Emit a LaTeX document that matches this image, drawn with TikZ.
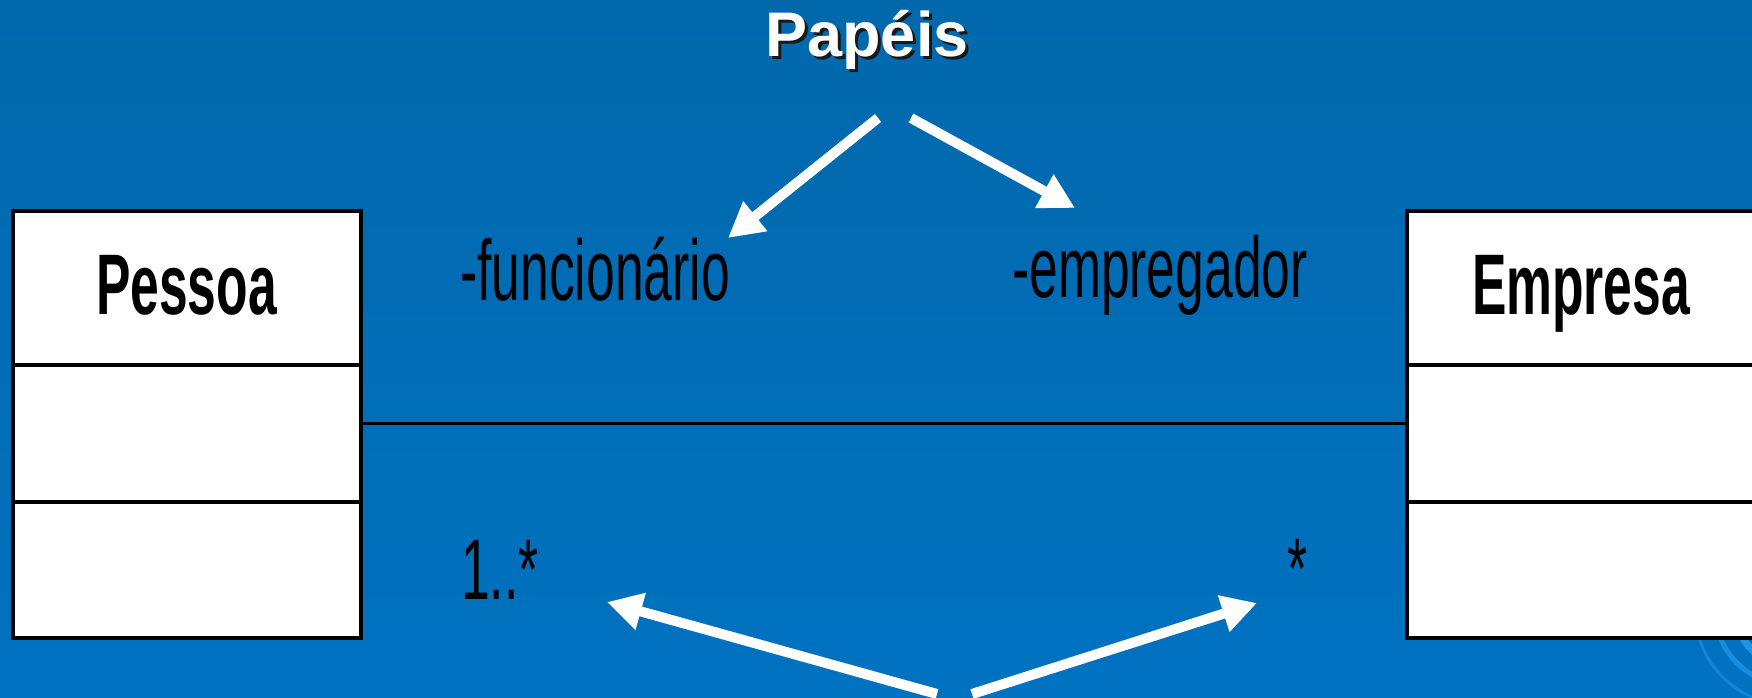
\documentclass[tikz,border=0pt]{standalone}
\usepackage{fontspec}
\usepackage{tikz}
\usetikzlibrary{positioning,arrows.meta}
\newfontfamily\narrowfont[FakeStretch=0.6]{Liberation Sans}
\newfontfamily\titlefont{Liberation Sans}
\definecolor{slide-top}{RGB}{2,104,172}
\definecolor{slide-bottom}{RGB}{0,114,192}
\definecolor{swirl}{RGB}{28,148,232}
\tikzset{
    class-box/.style = {draw=black, fill=white, line width=4pt, rectangle, minimum width=348pt, inner sep=0pt, outer sep=0pt},
    class-name/.style = {font=\narrowfont\bfseries\fontsize{86}{90}\selectfont, text height=61pt, text depth=9pt},
    role-label/.style = {font=\narrowfont\fontsize{86}{90}\selectfont, inner sep=0pt, anchor=base west},
    title-text/.style = {font=\titlefont\bfseries\fontsize{63}{68}\selectfont, text=white, inner sep=0pt, anchor=base},
    role-arrow/.style = {draw=white, line width=10pt, -{Triangle[length=35pt,width=36pt]}},
    assoc-line/.style = {draw=black, line width=3pt},
}

\begin{document}
\begin{tikzpicture}[x=1pt,y=-1pt]
\useasboundingbox (0,0) rectangle (1752,698);
\clip (0,0) rectangle (1752,698);
\shade[top color=slide-top, bottom color=slide-bottom] (0,0) rectangle (1752,698);

% template swirl, bottom right
\draw[swirl, line width=7pt] (1790,610) ++(150:55) arc[start angle=150, end angle=120, radius=55];
\draw[swirl!80!slide-bottom, line width=5pt] (1790,610) ++(165:75) arc[start angle=165, end angle=110, radius=75];
\draw[swirl!60!slide-bottom, line width=3pt] (1790,610) ++(170:95) arc[start angle=170, end angle=105, radius=95];

% classes
\node[class-box, class-name, minimum height=154pt] (pessoa1) at (186.5,288) {Pessoa};
\node[class-box, minimum height=137pt, below=0pt of pessoa1] (pessoa2) {};
\node[class-box, minimum height=136pt, below=0pt of pessoa2] (pessoa3) {};

\node[class-box, class-name, minimum height=154pt] (empresa1) at (1581,288) {Empresa};
\node[class-box, minimum height=137pt, below=0pt of empresa1] (empresa2) {};
\node[class-box, minimum height=136pt, below=0pt of empresa2] (empresa3) {};

% association
\coordinate (assoc-start) at ([yshift=10pt]pessoa2.east);
\draw[assoc-line] (assoc-start) -- (assoc-start -| empresa2.west);

% roles and multiplicities
\node[role-label] (funcionario) at (460,300) {-funcionário};
\node[role-label] (empregador) at (1012,297) {-empregador};
\node[role-label] (mult-pessoa) at (461,599) {1..*};
\node[role-label, anchor=base] (mult-empresa) at (1298,598) {*};

% title
\node[title-text, text=black!90] (papeis-shadow) at (870,60) {Papéis};
\node[title-text] (papeis) at (867,57) {Papéis};

% pointers
\coordinate (papeis-left) at (878,118);
\coordinate (papeis-right) at (911,118);
\coordinate (funcionario-tip) at (728,238);
\coordinate (empregador-tip) at (1075,208);
\coordinate (mult-left) at (937,694);
\coordinate (mult-right) at (972,694);
\coordinate (mult-pessoa-tip) at (607,602);
\coordinate (mult-empresa-tip) at (1257,603);

\draw[role-arrow] (papeis-left) -- (funcionario-tip);
\draw[role-arrow] (papeis-right) -- (empregador-tip);
\draw[role-arrow] (mult-left) -- (mult-pessoa-tip);
\draw[role-arrow] (mult-right) -- (mult-empresa-tip);
\end{tikzpicture}
\end{document}
